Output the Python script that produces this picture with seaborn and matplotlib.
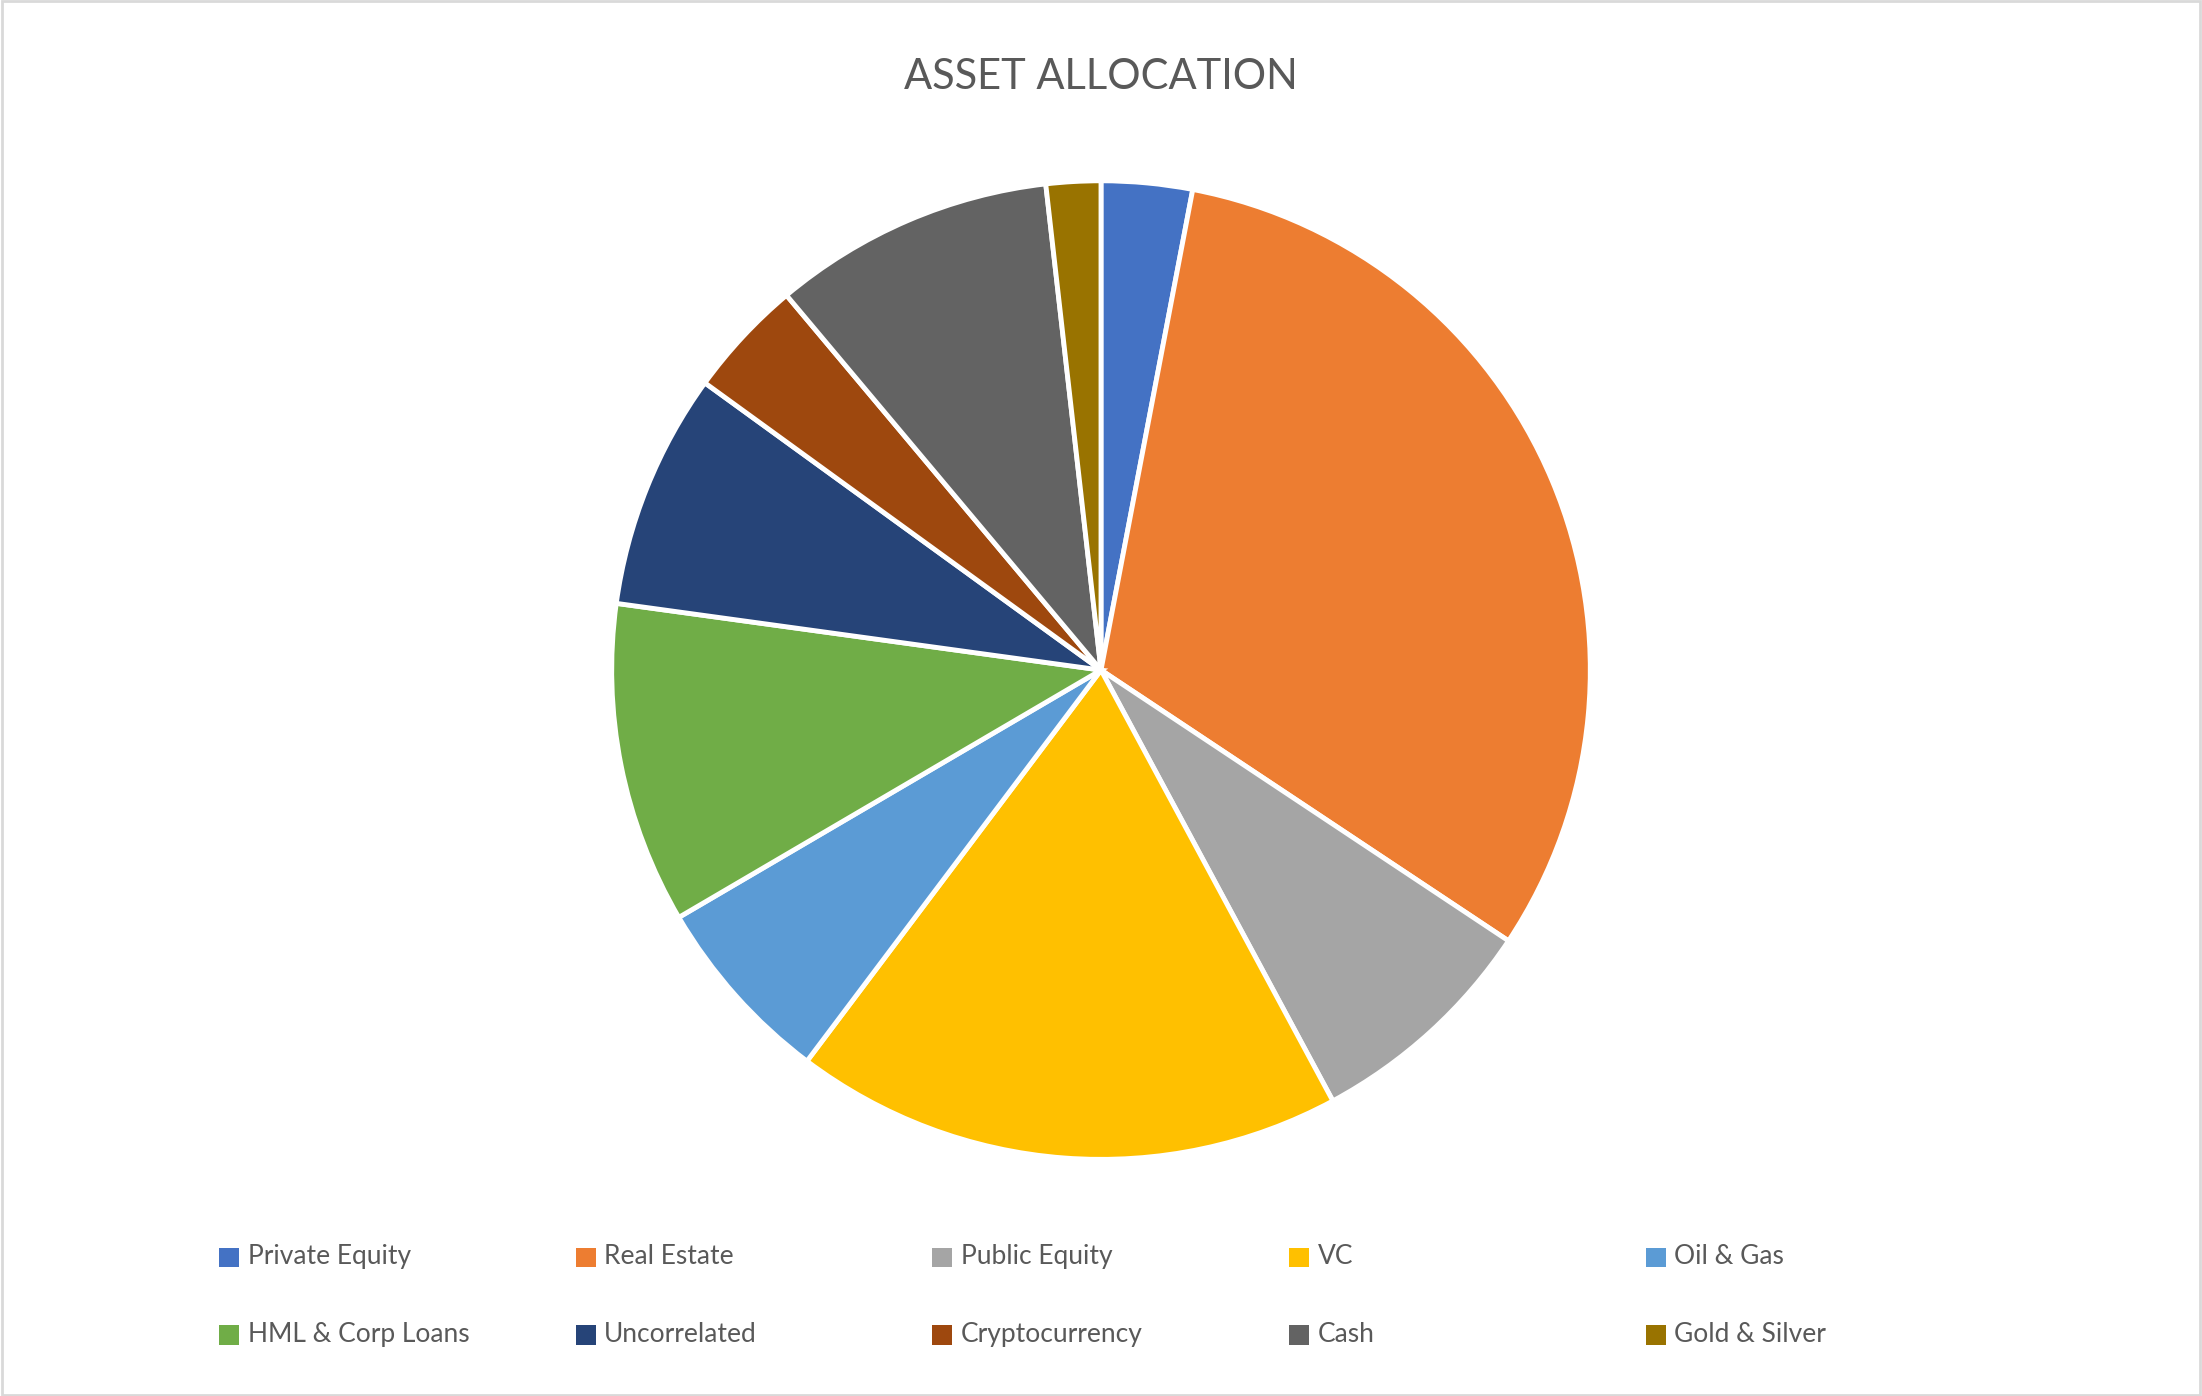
import matplotlib
matplotlib.use("Agg")
import matplotlib.pyplot as plt
from matplotlib.patches import Rectangle
import seaborn as sns

categories = ["Private Equity", "Real Estate", "Public Equity", "VC", "Oil & Gas",
              "HML & Corp Loans", "Uncorrelated", "Cryptocurrency", "Cash", "Gold & Silver"]
values = [3.0, 31.3, 7.8, 18.1, 6.3, 10.6, 7.8, 3.9, 9.3, 1.8]
colors = ["#4472C4", "#ED7D31", "#A5A5A5", "#FFC000", "#5B9BD5",
          "#70AD47", "#264478", "#9E480E", "#636363", "#997300"]

sns.set_theme(style="white")
palette = sns.color_palette(colors)

fig = plt.figure(figsize=(22.02, 13.96), dpi=100)
fig.patch.set_facecolor("white")
fig.add_artist(Rectangle((0.001, 0.001), 0.998, 0.998, transform=fig.transFigure,
                         fill=False, edgecolor="#D9D9D9", linewidth=2))

h = 0.708
w = h * 1396 / 2202
ax = fig.add_axes([0.5 - w / 2, 0.52 - h / 2, w, h])
ax.pie(values, colors=palette, startangle=90, counterclock=False, radius=1,
       wedgeprops=dict(edgecolor="white", linewidth=3.5))
ax.set_xlim(-1.01, 1.01)
ax.set_ylim(-1.01, 1.01)
ax.set_aspect("equal")
ax.axis("off")

fig.text(0.5, 0.945, "ASSET ALLOCATION", ha="center", va="center",
         fontsize=30, color="#595959", family="Lato")

for i, (lab, c) in enumerate(zip(categories, palette)):
    col, row = i % 5, i // 5
    x = (163 + 254 * col) / 1568
    y = 1 - (895 + 55 * row) / 994
    fig.add_artist(Rectangle((x - 0.0045, y - 0.0075), 0.009, 0.014,
                             transform=fig.transFigure, facecolor=c, edgecolor="none"))
    fig.text(x + 0.0085, y, lab, ha="left", va="center", fontsize=19,
             color="#595959", family="Lato")

fig.savefig("out.png", dpi=100, facecolor="white")
